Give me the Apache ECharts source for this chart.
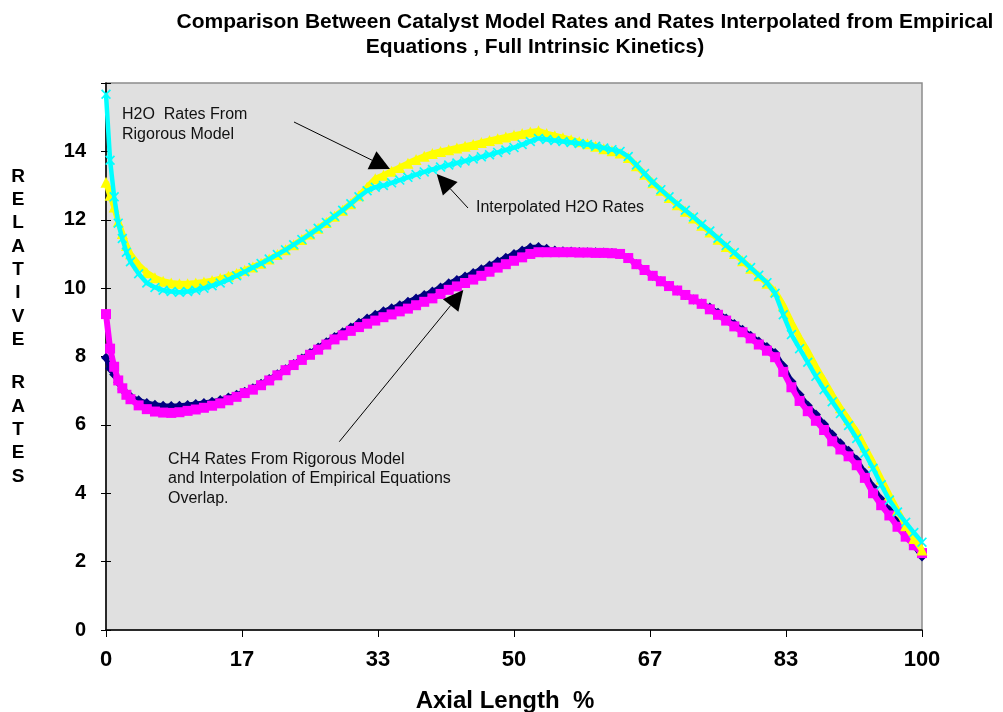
<!DOCTYPE html>
<html>
<head>
<meta charset="utf-8">
<script src="https://cdn.jsdelivr.net/npm/echarts@6/dist/echarts.min.js"></script>
<style>
html,body{margin:0;padding:0;background:#fff;}
#chart{width:1003px;height:712px;}
</style>
</head>
<body>
<div id="chart"></div>
<script>
// Axial length (%) sample positions
var axialLength = [0,0.5,1,1.5,2,2.5,3,
  4,5,6,7,8,9,10,11,12,13,14,15,16,17,18,19,20,21,22,23,24,25,26,27,28,29,30,31,32,33,
  34,35,36,37,38,39,40,41,42,43,44,45,46,47,48,49,50,51,52,53,
  54,55,56,57,58,59,60,61,62,63,
  64,65,66,67,68,69,70,71,72,73,74,75,76,77,78,79,80,81,82,83,84,85,86,87,88,89,90,91,92,93,94,95,96,97,98,99,100];

// H2O rates from rigorous model (yellow triangles)
var h2oModel = [13.1,12.72,12.37,11.95,11.6,11.25,11.0,
  10.68,10.45,10.3,10.2,10.15,10.13,10.13,10.15,10.18,10.22,10.28,10.35,10.43,10.52,10.62,10.73,10.85,10.98,11.12,11.27,11.42,11.58,11.75,11.92,12.1,12.28,12.47,12.7,12.95,13.2,
  13.3,13.42,13.53,13.65,13.76,13.86,13.94,14.0,14.05,14.1,14.15,14.2,14.26,14.32,14.37,14.42,14.47,14.52,14.57,14.6,
  14.52,14.46,14.4,14.34,14.28,14.22,14.15,14.08,14.02,13.95,
  13.82,13.58,13.33,13.08,12.86,12.65,12.44,12.25,12.05,11.84,11.64,11.43,11.22,11.01,10.8,10.58,10.36,10.14,9.9,9.5,9.0,8.55,8.15,7.7,7.3,6.88,6.5,6.15,5.8,5.35,4.9,4.42,3.95,3.5,3.05,2.68,2.34];

// Interpolated H2O rates (cyan crosses)
var h2oInterp = [15.67,13.74,12.67,11.9,11.45,11.05,10.77,
  10.42,10.15,10.02,9.94,9.9,9.88,9.9,9.94,10.0,10.07,10.15,10.25,10.36,10.48,10.6,10.72,10.85,10.98,11.12,11.27,11.42,11.58,11.75,11.92,12.1,12.28,12.47,12.67,12.85,12.95,
  13.0,13.08,13.16,13.24,13.32,13.4,13.47,13.54,13.6,13.66,13.72,13.78,13.84,13.9,13.97,14.04,14.11,14.2,14.29,14.38,
  14.35,14.32,14.29,14.26,14.23,14.2,14.15,14.1,14.05,14.0,
  13.85,13.6,13.35,13.1,12.88,12.67,12.47,12.28,12.08,11.87,11.67,11.46,11.25,11.04,10.82,10.6,10.38,10.16,9.85,9.22,8.64,8.23,7.83,7.42,7.03,6.68,6.33,5.98,5.6,5.17,4.73,4.25,3.8,3.45,3.15,2.85,2.57];

// CH4 rates from rigorous model (navy diamonds)
var ch4Model = [7.96,7.65,7.47,7.25,7.05,6.92,6.83,
  6.72,6.64,6.59,6.56,6.55,6.56,6.58,6.61,6.64,6.68,6.73,6.8,6.88,6.97,7.07,7.2,7.34,7.48,7.63,7.78,7.94,8.1,8.26,8.42,8.57,8.71,8.85,8.99,9.11,9.22,
  9.32,9.41,9.5,9.6,9.7,9.8,9.9,10.02,10.14,10.24,10.34,10.44,10.55,10.66,10.78,10.89,11.0,11.1,11.19,11.2,
  11.15,11.1,11.08,11.07,11.06,11.05,11.05,11.04,11.03,11.0,
  10.88,10.7,10.53,10.36,10.2,10.06,9.93,9.8,9.67,9.55,9.43,9.28,9.11,8.95,8.78,8.61,8.44,8.28,8.1,7.72,7.27,6.88,6.57,6.3,6.02,5.72,5.46,5.24,4.98,4.6,4.18,3.82,3.5,3.15,2.82,2.48,2.15];

// CH4 rates from interpolation of empirical equations (magenta squares)
var ch4Interp = [9.24,8.23,7.7,7.3,7.07,6.88,6.75,
  6.57,6.46,6.39,6.36,6.35,6.37,6.41,6.45,6.5,6.56,6.63,6.72,6.82,6.93,7.03,7.16,7.3,7.45,7.6,7.75,7.9,8.05,8.2,8.35,8.5,8.62,8.75,8.86,8.96,9.05,
  9.15,9.23,9.32,9.4,9.5,9.6,9.7,9.83,9.95,10.05,10.15,10.25,10.36,10.48,10.6,10.7,10.8,10.9,11.0,11.05,
  11.05,11.05,11.05,11.05,11.04,11.04,11.03,11.03,11.02,11.0,
  10.88,10.7,10.53,10.36,10.2,10.06,9.93,9.8,9.67,9.54,9.38,9.22,9.05,8.88,8.71,8.53,8.35,8.17,7.98,7.55,7.1,6.7,6.4,6.12,5.85,5.52,5.28,5.08,4.82,4.45,4.0,3.65,3.35,3.02,2.73,2.48,2.25];

var titleLines = ['Comparison Between Catalyst Model Rates and Rates Interpolated from Empirical',
                  'Equations , Full Intrinsic Kinetics)'];
var xAxisTitle = 'Axial Length  %';
var yAxisTitleTop = ['R','E','L','A','T','I','V','E'];
var yAxisTitleBottom = ['R','A','T','E','S'];

function pairs(ys){ return axialLength.map(function(x,i){ return [x, ys[i]]; }); }

var xSym = 'path://M0,1.2 L1.2,0 L5,3.8 L8.8,0 L10,1.2 L6.2,5 L10,8.8 L8.8,10 L5,6.2 L1.2,10 L0,8.8 L3.8,5 Z';

var chart = echarts.init(document.getElementById('chart'), null, {renderer:'canvas'});

function arrow(x1,y1,tx,ty){
  var dx = tx-x1, dy = ty-y1, L = Math.sqrt(dx*dx+dy*dy);
  var ux = dx/L, uy = dy/L, px = -uy, py = ux;
  var bx = tx-20*ux, by = ty-20*uy;
  return [
    {type:'line', shape:{x1:x1,y1:y1,x2:bx,y2:by}, style:{stroke:'#000', lineWidth:1}, z:100},
    {type:'polygon', shape:{points:[[tx,ty],[bx+10*px,by+10*py],[bx-10*px,by-10*py]]}, style:{fill:'#000'}, z:100}
  ];
}

var fontFam = 'Liberation Sans, Arial, sans-serif';
var graphics = [
  {type:'text', style:{text:titleLines[0], font:'bold 21px '+fontFam, fill:'#000', x:585, y:22, textAlign:'center', textVerticalAlign:'middle'}},
  {type:'text', style:{text:titleLines[1], font:'bold 21px '+fontFam, fill:'#000', x:535, y:47, textAlign:'center', textVerticalAlign:'middle'}},
  {type:'text', style:{text:xAxisTitle, font:'bold 24px '+fontFam, fill:'#000', x:505, y:701, textAlign:'center', textVerticalAlign:'middle'}},
  {type:'text', style:{text:yAxisTitleTop.join('\n'), font:'bold 19px '+fontFam, lineHeight:23.3, fill:'#000', x:18, y:165, textAlign:'center', textVerticalAlign:'top'}},
  {type:'text', style:{text:yAxisTitleBottom.join('\n'), font:'bold 19px '+fontFam, lineHeight:23.3, fill:'#000', x:18, y:371.5, textAlign:'center', textVerticalAlign:'top'}},
  {type:'text', style:{text:'H2O  Rates From\nRigorous Model', font:'16px '+fontFam, lineHeight:19.5, fill:'#111', x:122, y:105, textAlign:'left', textVerticalAlign:'top'}, z:100},
  {type:'text', style:{text:'Interpolated H2O Rates', font:'16px '+fontFam, fill:'#111', x:476, y:208, textAlign:'left', textVerticalAlign:'middle'}, z:100},
  {type:'text', style:{text:'CH4 Rates From Rigorous Model\nand Interpolation of Empirical Equations\nOverlap.', font:'16px '+fontFam, lineHeight:19.5, fill:'#111', x:168, y:449.5, textAlign:'left', textVerticalAlign:'top'}, z:100}
];
graphics = graphics.concat(arrow(294,122,390,169)).concat(arrow(468,208,436.7,174)).concat(arrow(339.3,441.7,463.3,290));

var option = {
  animation:false,
  backgroundColor:'#fff',
  grid:{left:106, right:81, top:83, bottom:82, show:true, backgroundColor:'#e0e0e0', borderColor:'#8c8c8c', borderWidth:1.5},
  xAxis:{
    type:'value', min:0, max:100, interval:100/6,
    axisLine:{show:true, onZero:false, lineStyle:{color:'#000', width:1.5}},
    axisTick:{show:true, length:7, lineStyle:{color:'#000'}},
    splitLine:{show:false},
    axisLabel:{margin:19, color:'#000', fontWeight:'bold', fontSize:22, fontFamily:fontFam,
      formatter:function(v){ return String(Math.round(v)); }}
  },
  yAxis:[{
    type:'value', min:0, max:16, interval:2, position:'left',
    axisLine:{show:true, onZero:false, lineStyle:{color:'#000', width:1.5}},
    axisTick:{show:true, length:5, lineStyle:{color:'#000'}},
    splitLine:{show:false},
    axisLabel:{margin:20, color:'#000', fontWeight:'bold', fontSize:20, fontFamily:fontFam,
      formatter:function(v){ return v>=16 ? '' : String(v); }}
  },{
    type:'value', min:0, max:16, interval:2, position:'left', offset:0,
    axisLine:{show:false},
    axisTick:{show:true, inside:true, length:5, lineStyle:{color:'#000'}},
    splitLine:{show:false},
    axisLabel:{show:false}
  }],
  series:[
    {name:'CH4 Rigorous', type:'line', data:pairs(ch4Model), symbol:'diamond', symbolSize:10, showAllSymbol:true,
      lineStyle:{color:'#000080', width:5}, itemStyle:{color:'#000080'}, z:2},
    {name:'CH4 Interpolated', type:'line', data:pairs(ch4Interp), symbol:'rect', symbolSize:10, showAllSymbol:true,
      lineStyle:{color:'#ff00ff', width:6}, itemStyle:{color:'#ff00ff'}, z:3},
    {name:'H2O Rigorous', type:'line', data:pairs(h2oModel), symbol:'triangle', symbolSize:11, showAllSymbol:true,
      lineStyle:{color:'#ffff00', width:6}, itemStyle:{color:'#ffff00'}, z:4},
    {name:'H2O Interpolated', type:'line', data:pairs(h2oInterp), symbol:xSym, symbolSize:10, showAllSymbol:true,
      lineStyle:{color:'#00ffff', width:4.5}, itemStyle:{color:'#00ffff'}, z:5}
  ],
  graphic:graphics
};
chart.setOption(option);
</script>
</body>
</html>
